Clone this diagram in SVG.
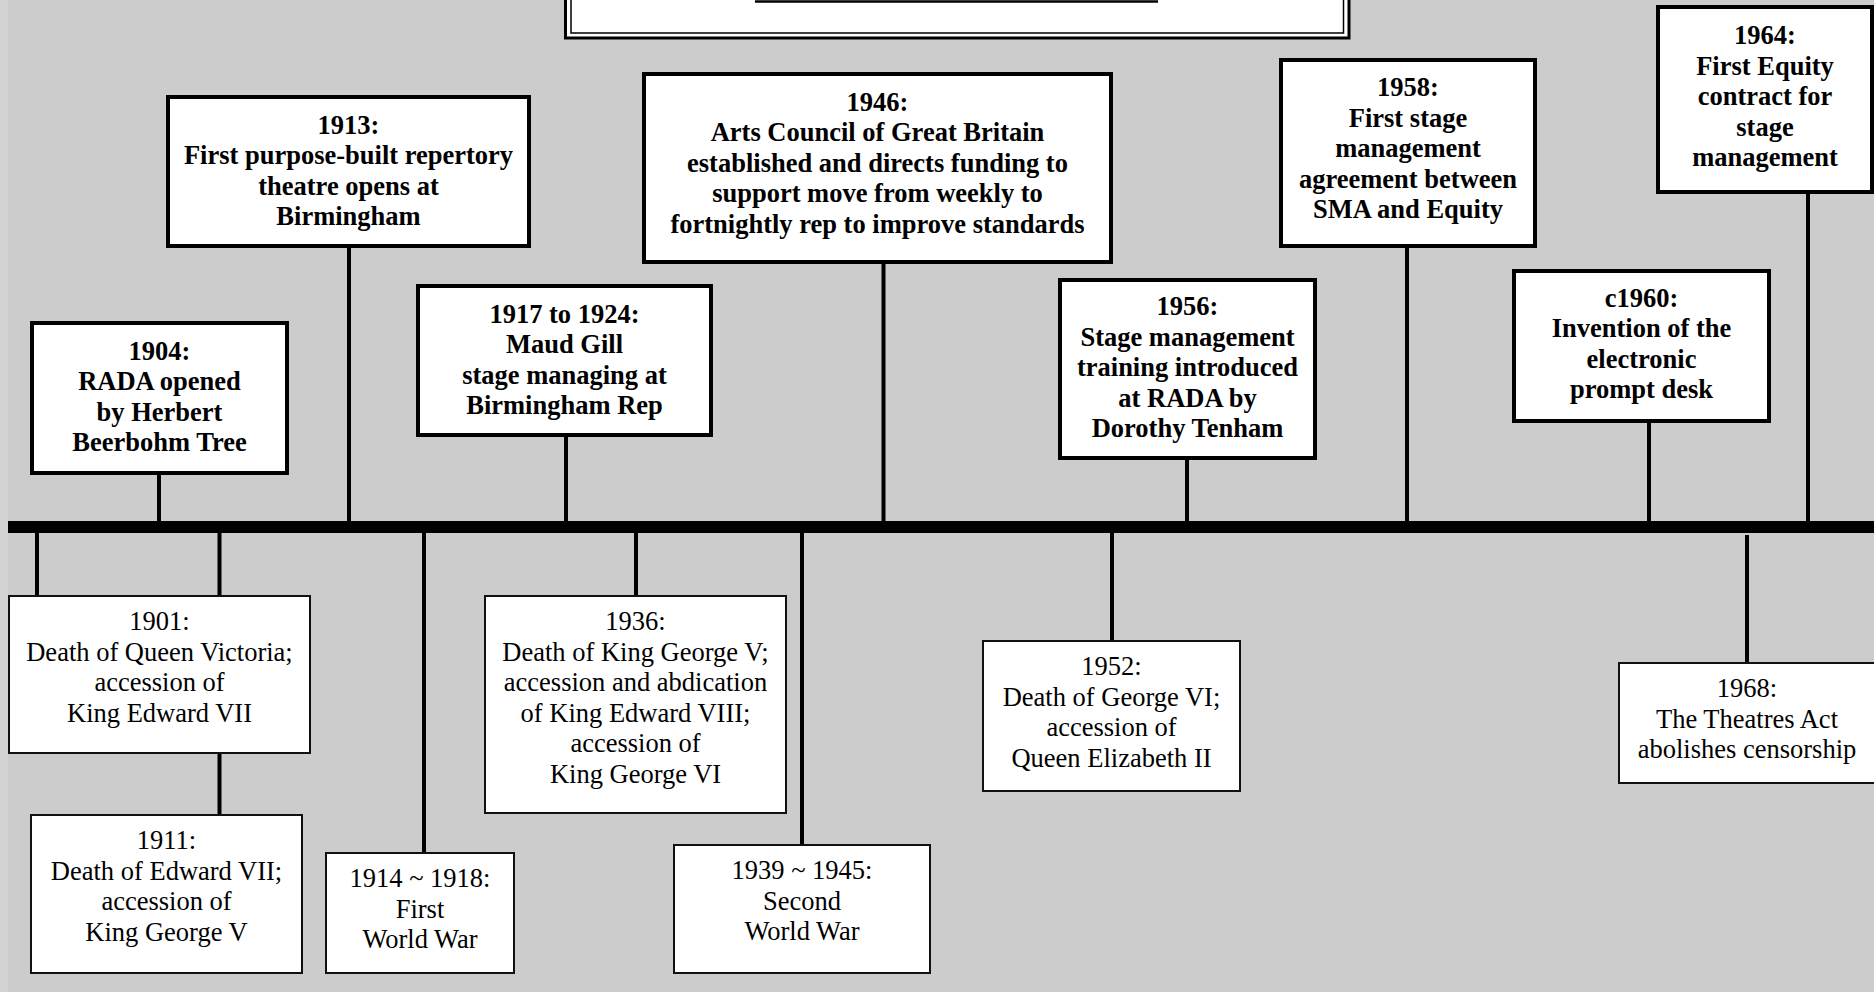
<svg xmlns="http://www.w3.org/2000/svg" width="1874" height="992" viewBox="0 0 1874 992">
<style>
.bg{fill:#cccccc}
.top rect{fill:#ffffff;stroke:#000;stroke-width:4}
.bot rect{fill:#ffffff;stroke:#111;stroke-width:2}
.top text{font-family:"Liberation Serif","Times New Roman",serif;font-weight:bold;font-size:26.5px;text-anchor:middle;fill:#000}
.bot text{font-family:"Liberation Serif","Times New Roman",serif;font-size:26.5px;text-anchor:middle;fill:#000}
.stem{stroke:#000;stroke-width:4;fill:none}
</style>
<rect class="bg" x="0" y="0" width="1874" height="992"/>
<rect x="0" y="0" width="8" height="992" fill="#d3d3d3"/>

<g id="title">
  <rect x="565.5" y="-60" width="783.5" height="98" fill="#fff" stroke="#000" stroke-width="3"/>
  <rect x="571" y="-60" width="772.5" height="93" fill="none" stroke="#000" stroke-width="1.5"/>
  <line x1="755" y1="1.5" x2="1158" y2="1.5" stroke="#000" stroke-width="2.5"/>
</g>

<g id="connectors">
  <rect x="8" y="521" width="1866" height="12" fill="#000"/>
  <line class="stem" x1="159" y1="473" x2="159" y2="521"/>
  <line class="stem" x1="349" y1="246" x2="349" y2="521"/>
  <line class="stem" x1="566" y1="435" x2="566" y2="521"/>
  <line class="stem" x1="883.5" y1="262" x2="883.5" y2="521"/>
  <line class="stem" x1="1187" y1="458" x2="1187" y2="521"/>
  <line class="stem" x1="1407" y1="246" x2="1407" y2="521"/>
  <line class="stem" x1="1649" y1="421" x2="1649" y2="521"/>
  <line class="stem" x1="1808" y1="192" x2="1808" y2="521"/>
  <line class="stem" x1="37" y1="533" x2="37" y2="596"/>
  <line class="stem" x1="219.5" y1="533" x2="219.5" y2="815"/>
  <line class="stem" x1="424" y1="533" x2="424" y2="853"/>
  <line class="stem" x1="636" y1="533" x2="636" y2="596"/>
  <line class="stem" x1="802" y1="533" x2="802" y2="845"/>
  <line class="stem" x1="1112" y1="533" x2="1112" y2="641"/>
  <line class="stem" x1="1747" y1="535" x2="1747" y2="663"/>
</g>

<g id="n1904" class="top">
  <rect x="32" y="323" width="255" height="150"/>
  <text x="159.5" y="359.5">1904:</text>
  <text x="159.5" y="390">RADA opened</text>
  <text x="159.5" y="420.5">by Herbert</text>
  <text x="159.5" y="451">Beerbohm Tree</text>
</g>
<g id="n1913" class="top">
  <rect x="168" y="97" width="361" height="149"/>
  <text x="348.5" y="133.5">1913:</text>
  <text x="348.5" y="164">First purpose-built repertory</text>
  <text x="348.5" y="194.5">theatre opens at</text>
  <text x="348.5" y="225">Birmingham</text>
</g>
<g id="n1917" class="top">
  <rect x="418" y="286" width="293" height="149"/>
  <text x="564.5" y="322.5">1917 to 1924:</text>
  <text x="564.5" y="353">Maud Gill</text>
  <text x="564.5" y="383.5">stage managing at</text>
  <text x="564.5" y="414">Birmingham Rep</text>
</g>
<g id="n1946" class="top">
  <rect x="644" y="74" width="467" height="188"/>
  <text x="877.5" y="110.5">1946:</text>
  <text x="877.5" y="141">Arts Council of Great Britain</text>
  <text x="877.5" y="171.5">established and directs funding to</text>
  <text x="877.5" y="202">support move from weekly to</text>
  <text x="877.5" y="232.5">fortnightly rep to improve standards</text>
</g>
<g id="n1956" class="top">
  <rect x="1060" y="280" width="255" height="178"/>
  <text x="1187.5" y="315">1956:</text>
  <text x="1187.5" y="345.5">Stage management</text>
  <text x="1187.5" y="376">training introduced</text>
  <text x="1187.5" y="406.5">at RADA by</text>
  <text x="1187.5" y="437">Dorothy Tenham</text>
</g>
<g id="n1958" class="top">
  <rect x="1281" y="60" width="254" height="186"/>
  <text x="1408" y="96">1958:</text>
  <text x="1408" y="126.5">First stage</text>
  <text x="1408" y="157">management</text>
  <text x="1408" y="187.5">agreement between</text>
  <text x="1408" y="218">SMA and Equity</text>
</g>
<g id="n1960" class="top">
  <rect x="1514" y="271" width="255" height="150"/>
  <text x="1641.5" y="306.5">c1960:</text>
  <text x="1641.5" y="337">Invention of the</text>
  <text x="1641.5" y="367.5">electronic</text>
  <text x="1641.5" y="398">prompt desk</text>
</g>
<g id="n1964" class="top">
  <rect x="1658" y="7" width="214" height="185"/>
  <text x="1765" y="44">1964:</text>
  <text x="1765" y="74.5">First Equity</text>
  <text x="1765" y="105">contract for</text>
  <text x="1765" y="135.5">stage</text>
  <text x="1765" y="166">management</text>
</g>

<g id="n1901" class="bot">
  <rect x="9" y="596" width="301" height="157"/>
  <text x="159.5" y="630">1901:</text>
  <text x="159.5" y="660.5">Death of Queen Victoria;</text>
  <text x="159.5" y="691">accession of</text>
  <text x="159.5" y="721.5">King Edward VII</text>
</g>
<g id="n1911" class="bot">
  <rect x="31" y="815" width="271" height="158"/>
  <text x="166.5" y="849">1911:</text>
  <text x="166.5" y="879.5">Death of Edward VII;</text>
  <text x="166.5" y="910">accession of</text>
  <text x="166.5" y="940.5">King George V</text>
</g>
<g id="n1914" class="bot">
  <rect x="326" y="853" width="188" height="120"/>
  <text x="420" y="887">1914 ~ 1918:</text>
  <text x="420" y="917.5">First</text>
  <text x="420" y="948">World War</text>
</g>
<g id="n1936" class="bot">
  <rect x="485" y="596" width="301" height="217"/>
  <text x="635.5" y="630">1936:</text>
  <text x="635.5" y="660.5">Death of King George V;</text>
  <text x="635.5" y="691">accession and abdication</text>
  <text x="635.5" y="721.5">of King Edward VIII;</text>
  <text x="635.5" y="752">accession of</text>
  <text x="635.5" y="782.5">King George VI</text>
</g>
<g id="n1939" class="bot">
  <rect x="674" y="845" width="256" height="128"/>
  <text x="802" y="879">1939 ~ 1945:</text>
  <text x="802" y="909.5">Second</text>
  <text x="802" y="940">World War</text>
</g>
<g id="n1952" class="bot">
  <rect x="983" y="641" width="257" height="150"/>
  <text x="1111.5" y="675">1952:</text>
  <text x="1111.5" y="705.5">Death of George VI;</text>
  <text x="1111.5" y="736">accession of</text>
  <text x="1111.5" y="766.5">Queen Elizabeth II</text>
</g>
<g id="n1968" class="bot">
  <rect x="1619" y="663" width="258" height="120"/>
  <text x="1747" y="697">1968:</text>
  <text x="1747" y="727.5">The Theatres Act</text>
  <text x="1747" y="758">abolishes censorship</text>
</g>
</svg>
